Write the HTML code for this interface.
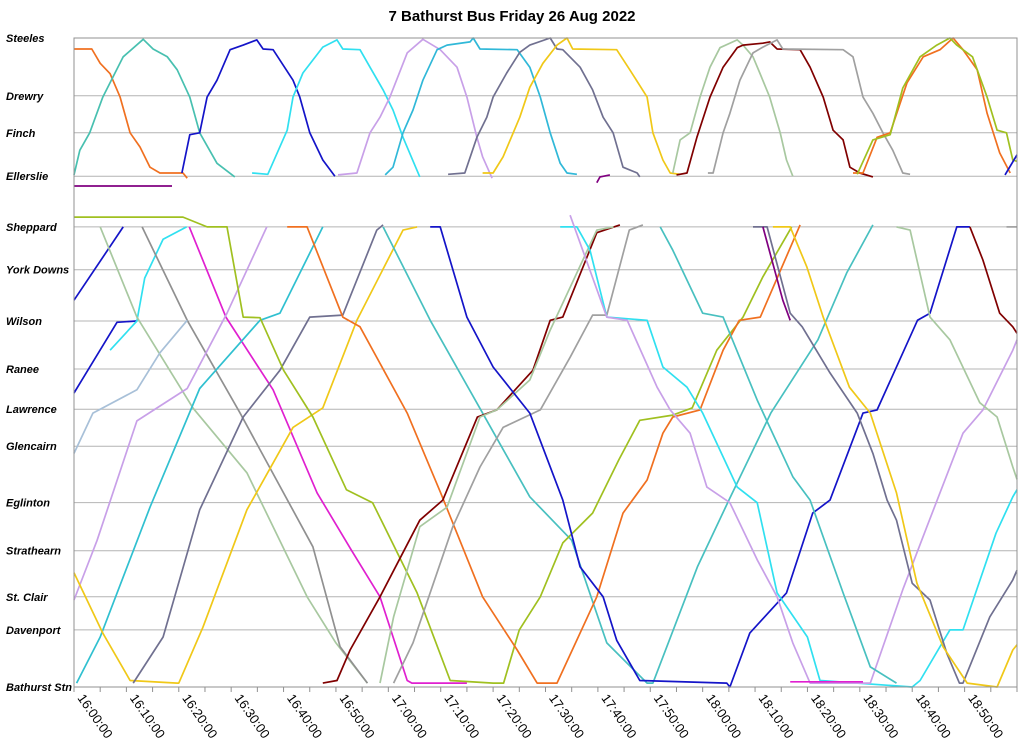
<!DOCTYPE html>
<html><head><meta charset="utf-8"><style>
html,body{margin:0;padding:0;background:#fff;}
svg{display:block;font-family:"Liberation Sans",Arial,sans-serif;}
</style></head><body>
<svg id="chart" width="1024" height="753" viewBox="0 0 1024 753" xmlns="http://www.w3.org/2000/svg">
<text x="512" y="21" text-anchor="middle" font-size="15" font-weight="bold">7 Bathurst Bus Friday 26 Aug 2022</text>
<g id="grid"></g>
<g id="ylabels"></g>
<g id="xaxis"></g>
<g id="series"></g>
<rect x="74" y="38" width="943" height="649" fill="none" stroke="#909090" stroke-width="1"/>
</svg>
<script>
const stationNames = ["Steeles","Drewry","Finch","Ellerslie","Sheppard","York Downs","Wilson","Ranee","Lawrence","Glencairn","Eglinton","Strathearn","St. Clair","Davenport","Bathurst Stn"];
const stationDist = [100,91.1,85.4,78.7,70.9,64.3,56.4,49.0,42.8,37.1,28.4,21.0,13.9,8.8,0];
const tickLabels = ["16:00:00","16:10:00","16:20:00","16:30:00","16:40:00","16:50:00","17:00:00","17:10:00","17:20:00","17:30:00","17:40:00","17:50:00","18:00:00","18:10:00","18:20:00","18:30:00","18:40:00","18:50:00"];
const tickMinutes = [0,10,20,30,40,50,60,70,80,90,100,110,120,130,140,150,160,170];
const tripColors = [
"#1414c8","#1414c8","#30e0f0","#e020d0","#a8c8a0","#909090","#a8c0d8","#c8a0e8","#30c0d0","#f0c818","#707090","#48c0c0","#a0c020","#f07020","#800000","#a8c8a0","#a0a0a0","#1414c8","#800000","#30e0f0","#c8a0e8","#48c0c0","#707090","#800080","#f0c818","#a8c8a0","#a0a0a0","#e020d0",
"#f07020","#48c0b0","#1414c8","#30e0f0","#c8a0e8","#30b8d8","#707090","#f0c818","#800080","#800080","#a8c8a0","#800000","#a0a0a0","#f07020","#a0c020","#1414c8"];
const tripTimes = [
[0,9.4],
[0,8.2,12],
[6.9,12,13.5,17,21.5],
[22,29,38,46.4,53,58.4,63.6,64.5,75],
[5,12,22.7,33,44.5,50,56],
[13,21.6,31.7,45.6,50.8,56],
[0,3.6,12,16.4,21.6],
[0,4.4,12,21.6,29.2,36.8],
[0.5,5,14.5,24,35.5,39.3,47.5],
[0,5.5,10.7,19.7,20,24.6,33,41.8,47.5,54,62.8,65.5],
[11.3,17,24,32.3,39.3,45,51.3,57.8,59],
[59,68,78,87,95,101.7,109.4,110.5,119,125,133,142,147.5,152.5],
[0,20.8,25.4,29.2,32.3,35.5,40,45.6,52,57,65.5,71.8,80,82,85,89,93.3,99,104,108,114.3,118,122.7,127.7,131.5,137],
[40.7,44.5,51.3,54.6,63.6,70,78,84.6,88.4,92.2,99.8,104.8,109.4,112.4,114.3,119.5,123.9,127,131,138.6],
[47.5,50.2,52.7,58.4,66,70.4,77,80.7,87.6,90.9,93.3,99.8,104.2],
[58.4,61,66,71.2,77.5,80.7,87,90.9,99.8,103],
[61,64.7,72.3,77.5,81.9,89,94.7,99,101.7,106,108.6],
[68,69.9,75,80,87,93.3,96.6,101,103.6,108,124.6,125.2,129,136,141,144.3,150.6,153.3,161,163.4,168.5,171],
[171,173.5,176.7,179.2,180],
[92.8,96,98.5,101.7,109.4,112.4,117,120,126.6,130.4,134.2,140,142.4,160,161.5,167.2,169.7,176,179.2,180],
[94.7,101.7,105.6,111.3,113.8,117.6,120.8,125.2,130.4,134.2,137.2,140.5,152,158.2,162.8,169.7,173.5,179.2,180],
[111.9,114.3,120,123.9,130.4,137.2,140.5,146.8,152,157],
[129.6,132.3,136.7,139,144.3,149.5,152.5,155.2,157,160,163.4,166.6,169,169.7,174.8,179.2,180],
[131.5,135.3,136.7],
[133.4,136.7,139.9,143,148,152,157,160.9,165.9,170.5,176.2,179.2,180],
[157,159.6,163.4,167.2,172.9,176.2,179.2,180],
[178,180],
[136.7,150.6],
[0,3.4,5,6.9,8.8,10.7,12.6,14.5,16.4,20.8,21.6],
[0,1.1,3,5.5,9.4,13.2,15.1,17.8,19.7,22.1,24,27.3,30.7],
[20.6,22.1,24,25.4,27.3,29.8,32.3,34.9,36.1,38,41.8,43.1,45,47.5,49.8],
[34,37,40.7,41.8,43.7,47.5,50.2,51.3,54.6,56.5,59,60.9,62.8,66],
[50.4,54,56.5,58.4,60.3,63.6,66.6,69.9,73.1,75,76.9,78,79.8],
[59.4,60.9,62.8,64.7,66.6,69.3,71.2,75.6,76.2,77.5,84.6,87,89,90.9,92.8,94.1,96],
[71.4,74.6,76.9,78.8,80,82.6,85.1,87,90.9,92.2,93.3,96.6,99,101,102.9,104.8,107.5,108],
[78,80,81.9,85.1,87,89.5,92.2,94.1,95.2,103.6,106.1,109.4,110.5,112.4,113.8,115.7],
[99.8,100.4,102.3],
[0,18.7],
[114.3,115.7,117.6,119.5,121.4,123.3,126.6,127.7,129.6,130.9,132.8,134.8,136,137.2],
[115,117,118.9,121.4,123.9,126.6,127.7,131.5,132.8,134.2,138.6,140.5,143,144.9,146.8,148.1,150,152.5],
[121,122,123.9,125.2,127.1,129.6,131.5,134.2,135.3,146.8,148.7,150.6,152.5,154.4,156.3,158.2,159.6],
[148.7,150.6,153.3,155.8,159,162.1,165.3,167.8,169.7,172.4,174.3,176.7,178.7],
[149.5,152.5,155.8,158.2,161.5,164.7,167.2,168.5,171.5,174.3,176.2,178,179.2,180],
[177.7,180]
];
const tripDists = [
[59.6,70.9],
[45.3,56.2,56.4],
[51.9,56.4,63,69,70.9],
[70.9,57,45.8,29.9,21,13.9,1,0.6,0.6],
[70.9,57,43,33,13.9,6.8,0.6],
[70.9,56.5,42.2,21.6,6.2,0.6],
[36,42.2,45.8,51.5,56.5],
[13.4,22.6,41,46,57.6,70.9],
[0.6,7.7,27.7,46,56.5,57.6,70.9],
[17.6,8.3,1,0.6,0.6,9.2,27.3,40,43,56.5,70.4,70.9],
[0.6,7.7,27.3,41.6,48.8,57,57.3,70.4,71.2],
[70.9,56.5,42.2,29.3,22.6,6.8,0.6,0.6,18.5,28.8,42.2,53.5,63.8,71.2],
[72.4,72.4,70.9,70.9,57,56.9,48.8,41.6,30.4,28.4,14.5,1,0.6,0.6,8.8,13.9,22.2,26.8,35,41.1,41.9,43,51.9,57,63.2,70.9],
[70.9,70.9,57,55.5,42.2,29.9,13.9,5.7,0.6,0.6,13.9,26.8,31.9,39.1,41.6,42.7,51.9,56.5,57,71.2],
[0.6,1,5.7,13.9,25.7,28.8,41.6,42.7,48.8,56.5,57,70,71.2],
[0.6,10.8,24.7,27.7,41.6,42.7,47.3,55,70.4,70.9],
[0.6,6.8,24.7,33.9,40,42.7,50.8,57.3,57.3,70.4,71.2],
[70.9,70.9,57,49.3,42.2,28.8,18.5,13.9,7.2,1,0.6,0,8.3,14.5,26.8,28.8,42.2,42.7,56.5,57.6,70.9,70.9],
[70.9,65.8,57.6,55.5,54.5],
[70.9,70.9,67.3,57,56.5,49.3,46.2,42.2,30.8,28.4,14.5,7.7,1,0,1,8.8,8.8,23.7,29.3,30.4],
[72.7,57,56.5,46.2,42.7,39.1,30.8,28.4,19.6,13.9,6.8,0.6,0.6,15,24.7,39.1,42.7,51.9,53.5],
[70.9,67.3,57.6,57,44.2,32.4,28.8,14.5,3.1,0.6],
[70.9,70.9,57.6,55.5,48.4,42.2,36,28.8,25.7,16,13.4,5.2,0.6,0.6,10.8,16.5,18],
[70.9,59.6,56.5],
[70.9,70.9,64.7,57,46.2,42.2,29.9,16,6.2,0.6,0,5.7,6.5],
[70.9,70.4,57,53.5,43.8,41.6,33.9,32],
[70.9,70.9],
[0.8,0.8],
[98.3,98.3,96.1,94.5,90.9,85.4,83.2,80.1,79.2,79.2,78.4],
[78.9,82.7,85.4,90.9,97.1,99.8,98.3,97.1,95.1,90.9,85.4,80.7,78.6],
[79.2,85.1,85.4,90.9,93.5,98.2,98.9,99.7,98.3,98.2,93.5,90.9,85.4,81.2,78.7],
[79.2,79,85.8,90.9,94.6,98.6,99.7,98.3,98.2,95.5,92,88.9,84.7,78.6],
[78.9,79.2,85.4,87.8,90.9,97.7,99.8,98.2,95.5,90.9,84.7,81.7,78.4],
[78.9,80.1,85.4,88.9,93.5,98.2,98.9,99.4,100,98.3,98.2,95.5,90.9,85.4,80.7,79.2,79],
[79,79.2,84.7,87.8,90.9,94.6,97.8,98.9,100,98.3,98.2,95.5,92,87.8,85.4,80.1,79.2,78.6],
[79.2,79.2,81.7,87.8,92.4,96.1,98.9,100,98.3,98.2,95.1,90.9,85.4,81.2,79.2,79],
[77.7,78.6,78.9],
[77.2,77.2],
[79.2,84.3,85.4,90.9,95.5,98.5,99.7,98.9,97.1,94.6,90.9,85.4,81.2,78.7],
[78.9,79.2,84.7,90.9,95.5,98.5,98.9,99.2,99.4,98.3,98.2,95.5,90.9,85.8,84.3,80.1,79.2,78.6],
[79.2,79.2,85.4,88.4,93.5,97.7,98.6,99.7,98.3,98.2,97.1,90.9,88.4,85.4,82.7,79.2,79],
[79.2,79.2,84.7,85.4,93.1,97.1,98.2,100,98.2,95.1,88.4,82.3,79.2],
[79,84.3,85.1,92.3,97.1,98.9,100,98.9,97.1,90.9,85.8,85.4,81.2,81],
[78.9,82]
];

const X0=74, X1=1017, Y0=687, Y1=38, TMAX=180, DMAX=100;
function xScale(t){return X0 + t*(X1-X0)/TMAX;}
function yScale(d){return Y0 - d*(Y0-Y1)/DMAX;}
const NS="http://www.w3.org/2000/svg";
const grid=document.getElementById('grid');
const ylab=document.getElementById('ylabels');
const xax=document.getElementById('xaxis');
const ser=document.getElementById('series');

stationNames.forEach((n,i)=>{
  const y=yScale(stationDist[i]);
  const l=document.createElementNS(NS,'line');
  
  
  l.setAttribute('x1',X0);l.setAttribute('x2',X1);l.setAttribute('y1',y);l.setAttribute('y2',y);
  l.setAttribute('stroke','#b4b4b4');l.setAttribute('stroke-width','1');
  grid.appendChild(l);
  const t=document.createElementNS(NS,'text');
  
  
  t.setAttribute('x',6);t.setAttribute('y',y+4);
  t.setAttribute('font-size','11');t.setAttribute('font-weight','bold');t.setAttribute('font-style','italic');
  t.textContent=n;
  ylab.appendChild(t);
});

for(let m=0;m<=TMAX;m+=5){
  const x=xScale(m);
  const tk=document.createElementNS(NS,'line');
  
  
  tk.setAttribute('x1',x);tk.setAttribute('x2',x);tk.setAttribute('y1',Y0);tk.setAttribute('y2',Y0+5);
  tk.setAttribute('stroke','#909090');
  xax.appendChild(tk);
}
tickLabels.forEach((lab,i)=>{
  const x=xScale(tickMinutes[i]);
  const t=document.createElementNS(NS,'text');
  
  
  t.setAttribute('transform','translate('+(x+3)+','+(Y0+11)+') rotate(55)');
  t.setAttribute('font-size','13');
  t.textContent=lab;
  xax.appendChild(t);
});

tripTimes.forEach((times,i)=>{
  const d=tripDists[i];
  const pts=times.map((t,j)=>xScale(t).toFixed(1)+','+yScale(d[j]).toFixed(1)).join(' ');
  const p=document.createElementNS(NS,'polyline');
  
  
  p.setAttribute('points',pts);
  p.setAttribute('fill','none');
  p.setAttribute('stroke',tripColors[i]);
  p.setAttribute('stroke-width','1.7');
  p.setAttribute('stroke-linejoin','round');
  ser.appendChild(p);
});
</script>
</body></html>
